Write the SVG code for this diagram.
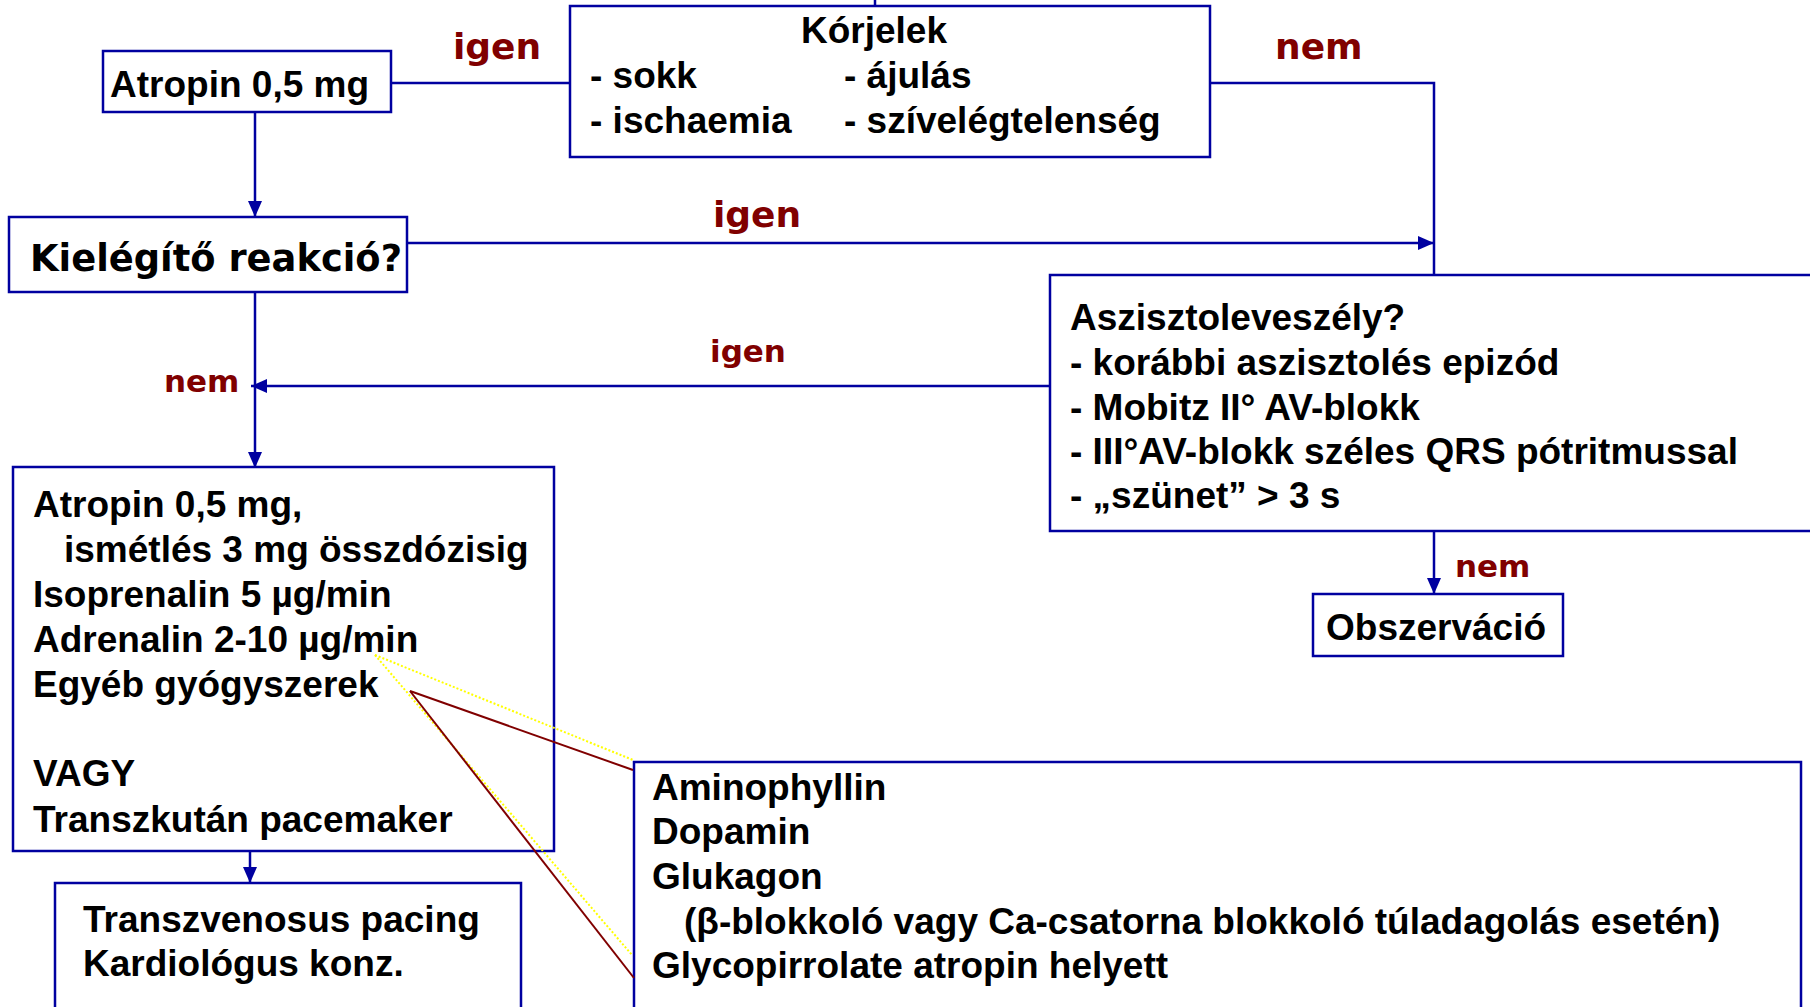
<svg xmlns="http://www.w3.org/2000/svg" width="1810" height="1007" viewBox="0 0 1810 1007">
<defs>
<style>
.box{fill:#fff;stroke:#0000A0;stroke-width:2.5}
.t{font-family:"Liberation Sans",Arial,sans-serif;font-weight:bold;font-size:37px;fill:#000}
.q{font-family:"DejaVu Sans",Verdana,sans-serif;font-weight:bold;font-size:37px;fill:#000}
.lb{font-family:"DejaVu Sans",Verdana,sans-serif;font-weight:bold;font-size:36px;fill:#800000}
.ls{font-family:"DejaVu Sans",Verdana,sans-serif;font-weight:bold;font-size:31px;fill:#800000}
.c{fill:none;stroke:#0000A0;stroke-width:2.5}
.red{stroke:#800000;stroke-width:2;fill:none}
.yel{stroke:#FFFF00;stroke-width:2;stroke-dasharray:2 2;fill:none}
</style>
<marker id="ah" viewBox="0 0 16 14" refX="16" refY="7" markerWidth="16" markerHeight="14" markerUnits="userSpaceOnUse" orient="auto">
<path d="M0,0 L16,7 L0,14 z" fill="#0000A0"/>
</marker>
</defs>
<rect width="1810" height="1007" fill="#fff"/>

<g id="connectors">
<line class="c" x1="875" y1="0" x2="875" y2="6"/>
<line class="c" x1="391" y1="83" x2="570" y2="83"/>
<polyline class="c" points="1210,83 1434,83 1434,275"/>
<line class="c" x1="255" y1="112" x2="255" y2="217" marker-end="url(#ah)"/>
<line class="c" x1="407" y1="243" x2="1434" y2="243" marker-end="url(#ah)"/>
<line class="c" x1="255" y1="292" x2="255" y2="468" marker-end="url(#ah)"/>
<line class="c" x1="1050" y1="386" x2="251" y2="386" marker-end="url(#ah)"/>
<line class="c" x1="1434" y1="531" x2="1434" y2="594" marker-end="url(#ah)"/>
<line class="c" x1="250" y1="851" x2="250" y2="883" marker-end="url(#ah)"/>
</g>

<g id="n-korjelek">
<rect class="box" x="570" y="6" width="640" height="151"/>
<text class="t" x="874" y="43" text-anchor="middle">Kórjelek</text>
<text class="t" x="590" y="88">- sokk</text>
<text class="t" x="844" y="88">- ájulás</text>
<text class="t" x="590" y="133">- ischaemia</text>
<text class="t" x="844" y="133">- szívelégtelenség</text>
</g>

<g id="n-atropin">
<rect class="box" x="103" y="51" width="288" height="61"/>
<text class="t" x="110" y="97">Atropin 0,5 mg</text>
</g>

<g id="n-kielegito">
<rect class="box" x="9" y="217" width="398" height="75"/>
<text class="q" x="30" y="271" textLength="372" lengthAdjust="spacingAndGlyphs">Kielégítő reakció?</text>
</g>

<g id="n-aszisztole">
<rect class="box" x="1050" y="275" width="800" height="256"/>
<text class="t" x="1070" y="330">Aszisztoleveszély?</text>
<text class="t" x="1070" y="375">- korábbi aszisztolés epizód</text>
<text class="t" x="1070" y="420">- Mobitz II° AV-blokk</text>
<text class="t" x="1070" y="464">- III°AV-blokk széles QRS pótritmussal</text>
<text class="t" x="1070" y="508">- „szünet” &gt; 3 s</text>
</g>

<g id="n-obszervacio">
<rect class="box" x="1313" y="594" width="250" height="62"/>
<text class="t" x="1326" y="640">Obszerváció</text>
</g>

<g id="n-atropin2">
<rect class="box" x="13" y="467" width="541" height="384"/>
<text class="t" x="33" y="517">Atropin 0,5 mg,</text>
<text class="t" x="64" y="562">ismétlés 3 mg összdózisig</text>
<text class="t" x="33" y="607">Isoprenalin 5 µg/min</text>
<text class="t" x="33" y="652">Adrenalin 2-10 µg/min</text>
<text class="t" x="33" y="697">Egyéb gyógyszerek</text>
<text class="t" x="33" y="786">VAGY</text>
<text class="t" x="33" y="832">Transzkután pacemaker</text>
</g>

<g id="n-transzvenosus">
<rect class="box" x="55" y="883" width="466" height="200"/>
<text class="t" x="83" y="932">Transzvenosus pacing</text>
<text class="t" x="83" y="976">Kardiológus konz.</text>
</g>

<g id="n-drugs">
<rect class="box" x="634" y="762" width="1167" height="300"/>
<text class="t" x="652" y="800">Aminophyllin</text>
<text class="t" x="652" y="844">Dopamin</text>
<text class="t" x="652" y="889">Glukagon</text>
<text class="t" x="684" y="934">(β-blokkoló vagy Ca-csatorna blokkoló túladagolás esetén)</text>
<text class="t" x="652" y="978">Glycopirrolate atropin helyett</text>
</g>

<g id="callout">
<line class="yel" x1="375" y1="655" x2="633" y2="760"/>
<line class="yel" x1="375" y1="655" x2="632" y2="955"/>
<line class="red" x1="410" y1="691" x2="633" y2="770"/>
<line class="red" x1="410" y1="691" x2="634" y2="978"/>
</g>

<g id="labels">
<text class="lb" x="453" y="59">igen</text>
<text class="lb" x="1275" y="59">nem</text>
<text class="lb" x="713" y="227">igen</text>
<text class="ls" x="710" y="362">igen</text>
<text class="ls" x="164" y="392">nem</text>
<text class="ls" x="1455" y="577">nem</text>
</g>
</svg>
